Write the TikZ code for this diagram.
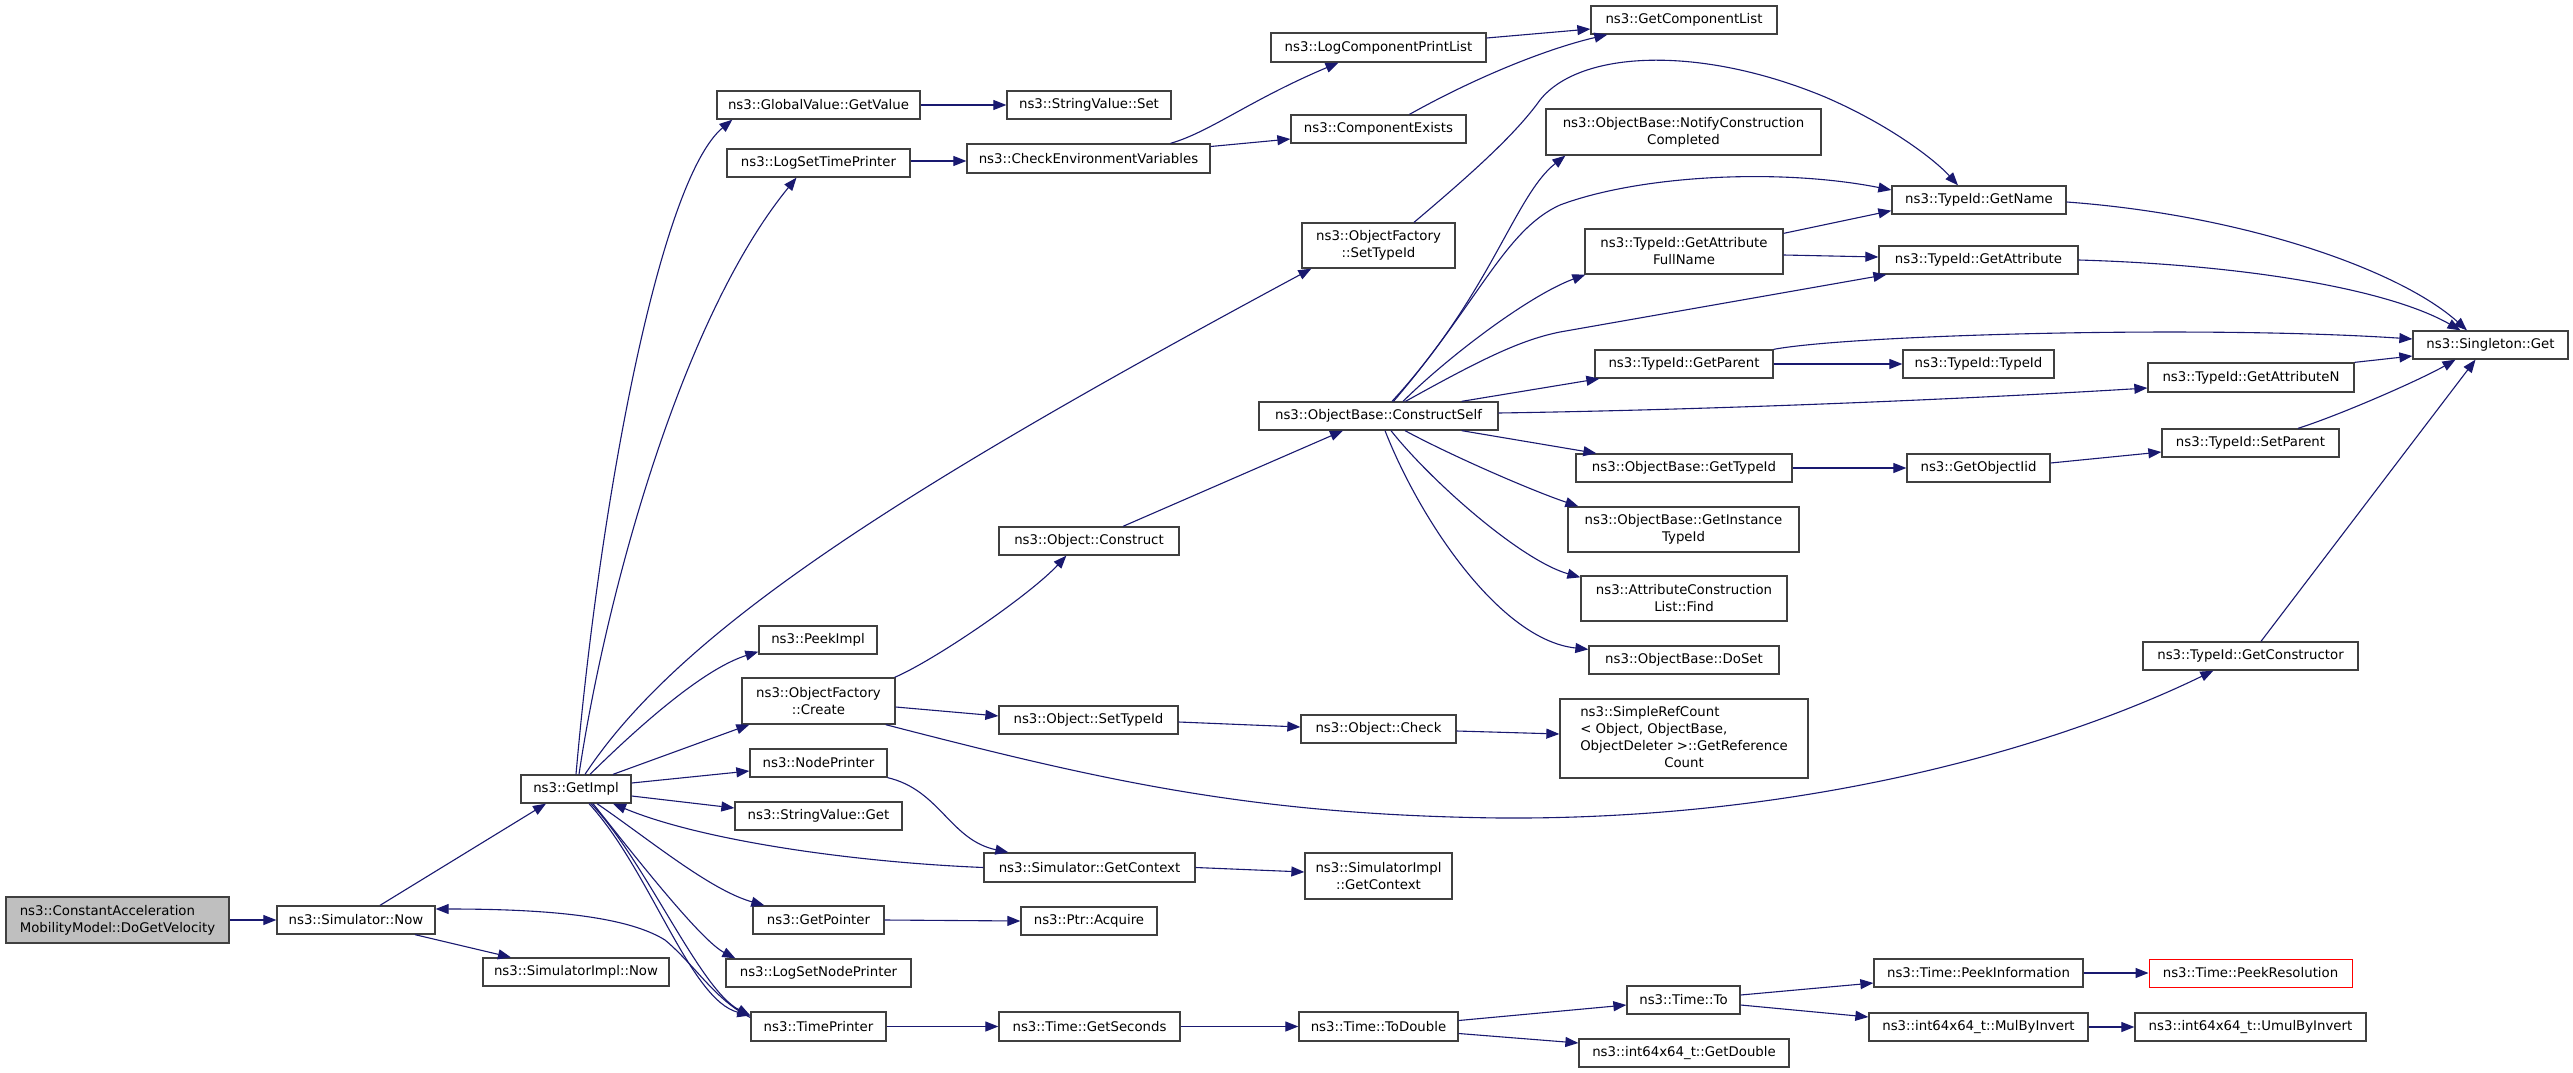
\documentclass[tikz,border=0pt]{standalone}
\usepackage{fontspec}
\setmainfont{DejaVu Sans}
\usetikzlibrary{arrows.meta,calc}
\definecolor{edgeblue}{HTML}{191970}
\definecolor{nodeborder}{HTML}{404040}
\definecolor{rootfill}{HTML}{BFBFBF}
\newcommand\gnode[7][]{\node[gbox,#1,minimum width={(#5-#3)*1pt},minimum height={(#6-#4)*1pt}] (#2) at ({(#3+#5)/2},{(#4+#6)/2}) {#7};}
\begin{document}
\begin{tikzpicture}[x=1pt,y=-1pt,
  gbox/.style={draw=nodeborder, line width=1.3pt, fill=white, inner sep=0pt, font=\fontsize{13.3}{17}\selectfont, align=center},
  cl/.style={draw=edgeblue, line width=1.1pt, -{Triangle[length=13pt,width=10pt]}}]
\useasboundingbox (0,0) rectangle (2573,1073);
\fill[white] (0,0) rectangle (2573,1073);
% nodes
\gnode[fill=rootfill,align=left]{CAMM}{6}{897}{229}{943}{ns3::ConstantAcceleration\\MobilityModel::DoGetVelocity}
\gnode{SimNow}{277}{906}{435}{934}{ns3::Simulator::Now}
\gnode{SimImplNow}{483}{958}{669}{986}{ns3::SimulatorImpl::Now}
\gnode{GetImpl}{521}{775}{631}{803}{ns3::GetImpl}
\gnode{GVGet}{717}{91}{920}{119}{ns3::GlobalValue::GetValue}
\gnode{SVSet}{1007}{91}{1171}{119}{ns3::StringValue::Set}
\gnode{LSTP}{727}{149}{910}{177}{ns3::LogSetTimePrinter}
\gnode{CEV}{967}{144}{1210}{173}{ns3::CheckEnvironmentVariables}
\gnode{LCPL}{1271}{33}{1486}{62}{ns3::LogComponentPrintList}
\gnode{CE}{1291}{115}{1466}{143}{ns3::ComponentExists}
\gnode{GCL}{1591}{6}{1777}{34}{ns3::GetComponentList}
\gnode{OFSet}{1302}{223}{1455}{268}{ns3::ObjectFactory\\::SetTypeId}
\gnode{PeekImpl}{759}{626}{877}{654}{ns3::PeekImpl}
\gnode{OFCreate}{742}{678}{895}{724}{ns3::ObjectFactory\\::Create}
\gnode{NodePrinter}{750}{749}{887}{777}{ns3::NodePrinter}
\gnode{SVGet}{735}{802}{902}{830}{ns3::StringValue::Get}
\gnode{GetPointer}{753}{906}{884}{934}{ns3::GetPointer}
\gnode{LSNP}{726}{959}{911}{987}{ns3::LogSetNodePrinter}
\gnode{TimePrinter}{751}{1012}{886}{1041}{ns3::TimePrinter}
\gnode{OConstruct}{999}{527}{1179}{555}{ns3::Object::Construct}
\gnode{CSelf}{1259}{402}{1498}{430}{ns3::ObjectBase::ConstructSelf}
\gnode{Notify}{1546}{109}{1821}{155}{ns3::ObjectBase::NotifyConstruction\\Completed}
\gnode{GetName}{1892}{186}{2066}{214}{ns3::TypeId::GetName}
\gnode{GAFN}{1585}{229}{1783}{274}{ns3::TypeId::GetAttribute\\FullName}
\gnode{GetAttr}{1879}{246}{2078}{274}{ns3::TypeId::GetAttribute}
\gnode{GetParent}{1595}{350}{1773}{378}{ns3::TypeId::GetParent}
\gnode{TypeIdTypeId}{1903}{350}{2054}{378}{ns3::TypeId::TypeId}
\gnode{GetAttrN}{2148}{363}{2354}{392}{ns3::TypeId::GetAttributeN}
\gnode{OBGetTypeId}{1576}{454}{1792}{482}{ns3::ObjectBase::GetTypeId}
\gnode{GetObjectIid}{1907}{454}{2050}{482}{ns3::GetObjectIid}
\gnode{SetParent}{2162}{429}{2339}{457}{ns3::TypeId::SetParent}
\gnode{GITId}{1568}{507}{1799}{552}{ns3::ObjectBase::GetInstance\\TypeId}
\gnode{Find}{1581}{576}{1787}{621}{ns3::AttributeConstruction\\List::Find}
\gnode{DoSet}{1589}{646}{1779}{674}{ns3::ObjectBase::DoSet}
\gnode{GetCtor}{2143}{642}{2358}{670}{ns3::TypeId::GetConstructor}
\gnode{Singleton}{2413}{331}{2568}{359}{ns3::Singleton::Get}
\gnode{OSetTypeId}{999}{706}{1178}{734}{ns3::Object::SetTypeId}
\gnode{OCheck}{1301}{715}{1456}{743}{ns3::Object::Check}
\gnode{SRC}{1560}{699}{1808}{778}{\begin{tabular}{@{}l@{}}ns3::SimpleRefCount\\< Object, ObjectBase,\\ ObjectDeleter >::GetReference\\\multicolumn{1}{@{}c@{}}{Count}\end{tabular}}
\gnode{SGCtx}{984}{853}{1195}{882}{ns3::Simulator::GetContext}
\gnode{SIGCtx}{1305}{853}{1452}{899}{ns3::SimulatorImpl\\::GetContext}
\gnode{PtrAcq}{1021}{907}{1157}{935}{ns3::Ptr::Acquire}
\gnode{GetSeconds}{999}{1012}{1180}{1041}{ns3::Time::GetSeconds}
\gnode{ToDouble}{1299}{1012}{1458}{1041}{ns3::Time::ToDouble}
\gnode{TimeTo}{1627}{986}{1740}{1014}{ns3::Time::To}
\gnode{GetDouble}{1579}{1039}{1789}{1067}{ns3::int64x64\_t::GetDouble}
\gnode{PeekInfo}{1874}{959}{2083}{987}{ns3::Time::PeekInformation}
\gnode[draw=red,line width=1pt]{PeekRes}{2149}{959}{2352}{987}{ns3::Time::PeekResolution}
\gnode{MulBy}{1869}{1013}{2088}{1041}{ns3::int64x64\_t::MulByInvert}
\gnode{UmulBy}{2135}{1013}{2366}{1041}{ns3::int64x64\_t::UmulByInvert}
% connectors
\draw[cl] (CAMM.east) -- (SimNow.west);
\draw[cl] ($(SimNow.north)+(24,0)$) -- ($(GetImpl.south)+(-30,0)$);
\draw[cl] ($(SimNow.south)+(59,0)$) -- ($(SimImplNow.north)+(-65,0)$);
\draw[cl] (GetImpl.north) .. controls (600,500) and (660,180) .. ($(GVGet.south west)+(16,0)$);
\draw[cl] ($(GetImpl.north)+(3,0)$) .. controls (605,600) and (680,320) .. ($(LSTP.south)+(-22,0)$);
\draw[cl] ($(GetImpl.north)+(9,0)$) .. controls (680,630) and (900,490) .. ($(OFSet.south west)+(10,0)$);
\draw[cl] ($(GetImpl.north)+(14,0)$) .. controls (630,735) and (700,670) .. ($(PeekImpl.south west)+(0,-3)$);
\draw[cl] ($(GetImpl.north)+(37,0)$) -- ($(OFCreate.south west)+(8,0)$);
\draw[cl] ($(GetImpl.east)+(0,-6)$) -- ($(NodePrinter.west)+(0,8)$);
\draw[cl] ($(GetImpl.east)+(0,7)$) -- ($(SVGet.west)+(0,-8)$);
\draw[cl] ($(GetImpl.south)+(21,0)$) .. controls (650,840) and (710,890) .. ($(GetPointer.north west)+(12,0)$);
\draw[cl] ($(GetImpl.south)+(17,0)$) .. controls (630,850) and (700,940) .. ($(LSNP.north west)+(10,0)$);
\draw[cl] ($(GetImpl.south)+(13,0)$) .. controls (650,870) and (690,1000) .. ($(TimePrinter.west)+(0,-11)$);
\draw[cl] ($(GetImpl.south)+(15,0)$) .. controls (645,860) and (700,990) .. ($(TimePrinter.west)+(0,-11)$);
\draw[cl] ($(TimePrinter.west)+(0,-9)$) .. controls (715,1000) and (695,965) .. (665,940) .. controls (625,915) and (540,909) .. ($(SimNow.east)+(0,-11)$);
\draw[cl] (SGCtx.west) .. controls (850,862) and (700,840) .. ($(GetImpl.south)+(37,0)$);
\draw[cl] (NodePrinter.south east) .. controls (940,790) and (950,840) .. ($(SGCtx.north west)+(25,0)$);
\draw[cl] (SGCtx.east) -- ($(SIGCtx.west)+(0,-4)$);
\draw[cl] (GetPointer.east) -- (PtrAcq.west);
\draw[cl] (TimePrinter.east) -- (GetSeconds.west);
\draw[cl] (GetSeconds.east) -- (ToDouble.west);
\draw[cl] ($(ToDouble.east)+(0,-6)$) -- ($(TimeTo.west)+(0,5)$);
\draw[cl] ($(ToDouble.east)+(0,7)$) -- ($(GetDouble.west)+(0,-10)$);
\draw[cl] ($(TimeTo.east)+(0,-5)$) -- ($(PeekInfo.west)+(0,10)$);
\draw[cl] ($(TimeTo.east)+(0,5)$) -- ($(MulBy.west)+(0,-10)$);
\draw[cl] (PeekInfo.east) -- (PeekRes.west);
\draw[cl] (MulBy.east) -- (UmulBy.west);
\draw[cl] (GVGet.east) -- (SVSet.west);
\draw[cl] ($(LSTP.east)+(0,-2)$) -- ($(CEV.west)+(0,2.5)$);
\draw[cl] ($(CEV.north)+(82,0)$) .. controls (1210,132) and (1250,100) .. ($(LCPL.south)+(-40,0)$);
\draw[cl] ($(CEV.east)+(0,-12)$) -- ($(CE.west)+(0,10)$);
\draw[cl] ($(LCPL.east)+(0,-9.5)$) -- ($(GCL.west)+(0,9)$);
\draw[cl] ($(CE.north)+(31,0)$) .. controls (1480,75) and (1550,48) .. ($(GCL.south west)+(17,0)$);
\draw[cl] ($(OFCreate.north east)+(-1,0)$) .. controls (935,660) and (1030,595) .. ($(OConstruct.south west)+(68,0)$);
\draw[cl] ($(OFCreate.east)+(0,6)$) -- ($(OSetTypeId.west)+(0,-4)$);
\draw[cl] ($(OFCreate.south east)+(-10,0)$) .. controls (1100,780) and (1250,815) .. (1500,818) .. controls (1800,820) and (2050,750) .. ($(GetCtor.south west)+(71,0)$);
\draw[cl] ($(OConstruct.north)+(34,0)$) -- ($(CSelf.south)+(-35.5,0)$);
\draw[cl] ($(OSetTypeId.east)+(0,2)$) -- ($(OCheck.west)+(0,-2)$);
\draw[cl] ($(OCheck.east)+(0,2)$) -- ($(SRC.west)+(0,-4.5)$);
\draw[cl] ($(CSelf.north)+(13.5,0)$) .. controls (1490,295) and (1515,195) .. ($(Notify.south west)+(20,0)$);
\draw[cl] ($(CSelf.north)+(15,0)$) .. controls (1480,300) and (1505,230) .. (1560,205) .. controls (1640,175) and (1780,168) .. ($(GetName.west)+(0,-10)$);
\draw[cl] ($(OFSet.north)+(35.5,0)$) .. controls (1470,175) and (1515,135) .. (1540,100) .. controls (1580,50) and (1700,45) .. (1825,97) .. controls (1890,125) and (1935,160) .. ($(GetName.north)+(-21,0)$);
\draw[cl] ($(CSelf.north)+(24.5,0)$) .. controls (1450,355) and (1530,295) .. ($(GAFN.south west)+(1,0)$);
\draw[cl] ($(CSelf.north)+(27,0)$) .. controls (1480,360) and (1520,340) .. (1560,332) -- ($(GetAttr.south west)+(8,0)$);
\draw[cl] ($(CSelf.north east)+(-37,0)$) -- ($(GetParent.south west)+(5,0)$);
\draw[cl] ($(CSelf.east)+(0,-3)$) .. controls (1700,410) and (1950,400) .. ($(GetAttrN.west)+(0,10.5)$);
\draw[cl] ($(CSelf.south east)+(-37,0)$) -- ($(OBGetTypeId.north west)+(21,0)$);
\draw[cl] ($(CSelf.south)+(26.5,0)$) .. controls (1450,455) and (1530,490) .. ($(GITId.north west)+(11,0)$);
\draw[cl] ($(CSelf.south)+(12.5,0)$) .. controls (1430,480) and (1520,560) .. ($(Find.north west)+(0,2)$);
\draw[cl] ($(CSelf.south)+(6.5,0)$) .. controls (1420,520) and (1500,640) .. ($(DoSet.north west)+(0,4)$);
\draw[cl] ($(GAFN.north east)+(0,5)$) -- ($(GetName.south west)+(0,-4)$);
\draw[cl] ($(GAFN.east)+(0,3.5)$) -- ($(GetAttr.west)+(0,-3)$);
\draw[cl] ($(GetName.east)+(0,2)$) .. controls (2244,215) and (2400,270) .. ($(Singleton.north)+(-23.5,0)$);
\draw[cl] (GetAttr.east) .. controls (2250,265) and (2390,290) .. ($(Singleton.north)+(-30,0)$);
\draw[cl] (GetParent.north east) .. controls (1850,335) and (2200,325) .. ($(Singleton.west)+(0,-6)$);
\draw[cl] (GetParent.east) -- (TypeIdTypeId.west);
\draw[cl] (GetAttrN.north east) -- ($(Singleton.west)+(0,11)$);
\draw[cl] (OBGetTypeId.east) -- (GetObjectIid.west);
\draw[cl] ($(GetObjectIid.east)+(0,-5)$) -- ($(SetParent.west)+(0,9)$);
\draw[cl] ($(SetParent.north)+(47.5,0)$) .. controls (2340,415) and (2420,380) .. ($(Singleton.south)+(-35,0)$);
\draw[cl] ($(GetCtor.north)+(10.5,0)$) -- ($(Singleton.south)+(-15,0)$);
\end{tikzpicture}
\end{document}
